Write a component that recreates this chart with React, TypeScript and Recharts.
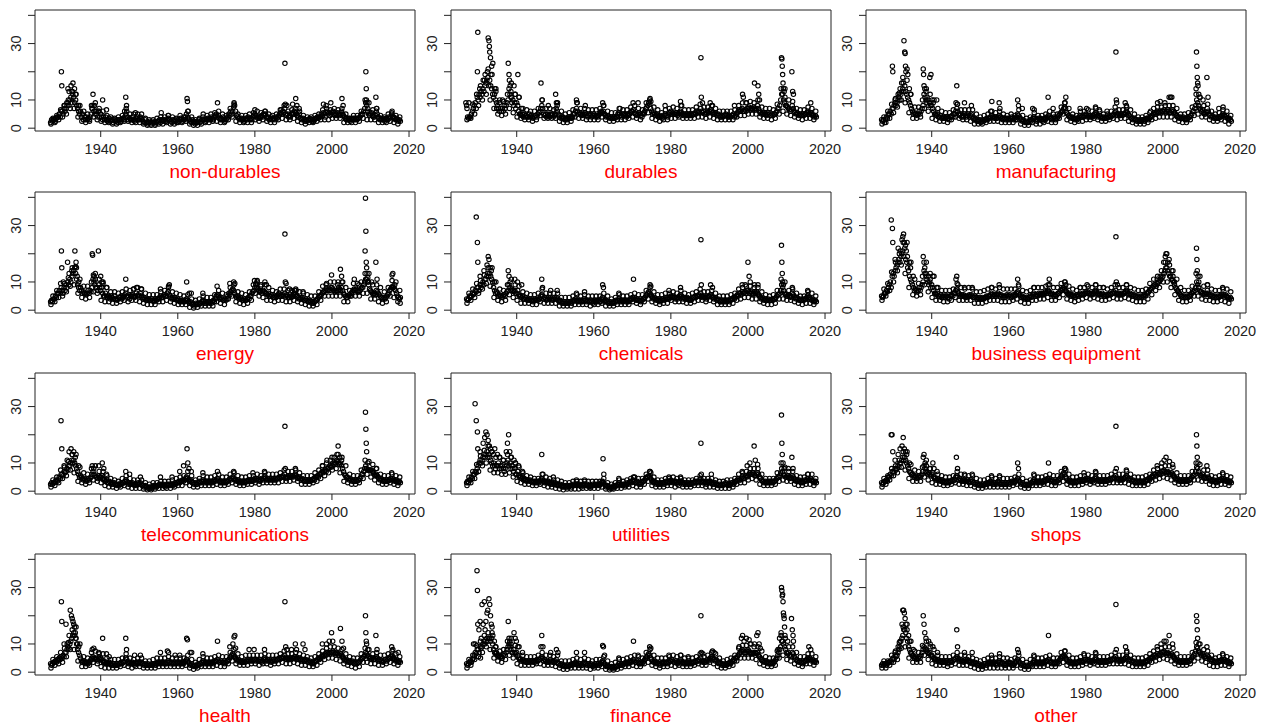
import React from 'react';
import { ScatterChart, Scatter, XAxis, YAxis, ReferenceArea } from 'recharts';

// Quarterly observations start in 1927 (4 per year through 2017);
// yearly band lows / highs (1927..2017) complete the dense monthly cloud.
const START_YEAR = 1927;
const STEP = 0.25;
const X_DOMAIN: [number, number] = [1922.95, 2021.55];
const Y_DOMAIN: [number, number] = [-1.0, 41.9];
const X_TICKS = [1940, 1960, 1980, 2000, 2020];
const Y_TICKS = [0, 10, 20, 30, 40];
const Y_TICK_LABELS: Record<number, string> = { 0: '0', 10: '10', 30: '30' };

const nondurBase = [
  2,3,2.5,3, 3,2.5,3.5,4, 4,5,4,6,
  6,5,7,6, 7,8,9,8, 10,11,9,12, 11,9,10,8, 7,6,5,6, 4,5,3,4, 3,4,3,3.5, 3,4,5,7, 8,6,5,6, 5,4,6,4,
  5,4,3,4, 3,4,3,2.5, 3,3.5,2.5,3, 3,2,3,2.5, 2.5,3,2,3, 3,2.5,3,3.5, 3,4,5,6, 4,3,3.5,3, 3,4,3,2.5, 3,3.5,4,3,
  3,4,3.5,3, 2.5,2,3,2, 2,1.5,2,2.5, 1.5,2,2.5,2, 2,1.5,2,2.5, 2.5,3,2,3, 3,2.5,3,2.5, 2.5,3,3.5,3, 3,2.5,2,3, 2.5,3,2.5,2,
  3,2.5,3,3.5, 3,2.5,3,3, 4,5,4,3.5, 3,2.5,2,3, 2,2.5,1.5,2, 2,2.5,3,2, 2.5,3,4,3, 3,2.5,3,3.5, 3,3.5,3,4, 3.5,3,4,4.5,
  5,4,4.5,3.5, 3,3.5,3,4, 3,2.5,3,3.5, 4,5,4.5,6, 5,6,7.5,8, 6,4.5,4,3.5, 3.5,3,3.5,3, 3,2.5,3,3.5, 3,4,3.5,3, 3.5,3,4,4.5,
  5,4.5,4,3.5, 4,3.5,4,4.5, 4,5,4.5,5, 4,3.5,4,3, 3.5,4,3,3.5, 3.5,3,4,3.5, 4,4.5,5,5.5, 5,6,5.5,7, 5,4.5,5,4, 4.5,4,5,5.5,
  5,6,5.5,5, 4.5,4,5,3.5, 3.5,3,3.5,3, 2.5,3,2.5,3, 3,3.5,3,2.5, 3,2.5,3,3.5, 3.5,4,3.5,4, 4,5,4.5,5.5, 5,4,5.5,6, 5,5.5,4.5,5,
  5.5,6,5,4.5, 5,4.5,5.5,5, 4.5,5,6,5, 4.5,4,3.5,3, 3,3.5,3,2.5, 3,3.5,3,3.5, 3,3.5,3,3.5, 3.5,4,4.5,5, 5,6,7,9, 8,6,5,4.5,
  5,5.5,4.5,4, 4,4.5,6,5, 4,3.5,3,3.5, 3,3.5,3,2.5, 3,3.5,3,4, 3.5,4,5,4, 4,3.5,3,3.5, 3,2.5,3,2.5,
];
const nondurLow = [
  1.5,2,3,
  4,5,7,7,4,2.5,2,2.5,4,3,
  2.5,2,2,1.5,1.5,2,2.5,2.5,2,2,
  2,1.5,1,1,1,1.5,1.5,2,1.5,1.5,
  2,2,2.5,1.5,1,1,1.5,2,2,2.5,
  2.5,2,2,3,4,2.5,2,2,2,2,
  3,2.5,3,2.5,2,2,3,3.5,3,3,
  3.5,2.5,2,1.5,2,2,2.5,3,3,3,
  3.5,3.5,3.5,2,2,2,2,2.5,3.5,3,
  3,3,2,2,2,2.5,2,1.5,
];
const nondurHigh = [
  3.5,4.5,6.5,
  8,10,13,12,8,6,5,8,9,7,
  6,4.5,4,3.5,4,4.5,7,5,5,5,
  5,3.5,3,3,3.5,4,4,4.5,4,3.5,
  4.5,4,6,4,3,3.5,5,4.5,5,5.5,
  6,5,4.5,7,9,5,4.5,4.5,5,5.5,
  6,5.5,6,5,4.5,5,6.5,8,6,6.5,
  7,6,4.5,4,4,4.5,5,6.5,7,6.5,
  7,6.5,7,5,3.5,4.5,4.5,6,10,9,
  6.5,7,4.5,4,5,6,4.5,4,
];
const nondurPeaks = [
  [1929.8,20],[1929.9,15],[1930.5,8],[1931.2,9],[1931.5,14],[1931.8,13],[1932.3,15],[1932.8,16],[1933.2,14],[1933.5,12],[1932.6,13],[1934.2,8],
  [1938.0,12],[1937.8,7],[1938.4,8],[1938.8,6],[1939.5,6],[1940.5,10],[1941.5,6.5],[1946.5,11],[1946.7,8],[1946.2,6],[1949.0,5.5],[1955.7,5.5],
  [1957.5,4.5],[1962.4,10.5],[1962.5,9.5],[1962.7,6],[1970.3,9],[1974.6,8.5],[1980.0,6.5],[1982.7,6],[1986.8,6.5],[1987.8,23],[1987.9,8.5],
  [1988.3,8],[1989.8,8.5],[1990.6,10.5],[1990.9,8],[1991.5,7],[1997.8,8.5],[1998.5,8],[1999.7,9],[2002.6,10.5],[2002.9,8],[2008.8,20],
  [2008.9,14],[2008.95,10],[2009.1,9],[2009.3,7],[2011.4,11],[2011.6,7],[2015.5,5.5],
];

const durBase = [
  8,4,3.5,4, 4,5,6,7, 8,9,7,11,
  10,12,11,13, 12,14,13,15, 16,17,18,15, 17,15,14,12, 11,12,10,9, 8,7,6,7, 6,7,6,8, 7,8,9,10, 14,12,11,9, 10,8,9,7,
  9,8,6,5, 5,4.5,5,4, 5,4,4.5,4, 4,5,4,4.5, 4,3.5,4,4.5, 4.5,4,5,5.5, 6,7,8,7, 5,4.5,5,4, 5,4.5,4,5, 4.5,5,4,4.5,
  5,7,6,5, 4,4.5,3.5,4, 4,3.5,3,3.5, 3,3.5,4,3.5, 4,3.5,4,5, 5,6,7,6, 5,5.5,5,4.5, 5,4.5,5,5.5, 5,4.5,4,5, 4.5,5,4,4.5,
  5,4.5,4,4.5, 4,4.5,5,5.5, 6,5.5,6,5, 4.5,4,4.5,4, 4,3.5,4,3.5, 3.5,4,3.5,4, 4,5,5.5,5, 4.5,4,5,4.5, 5,4.5,4,5, 4.5,5,5.5,6,
  6,6.5,5.5,5, 5,4.5,5,5.5, 5,4.5,4,5, 5.5,6,7,7.5, 8,9,8.5,7, 6,5,5.5,5, 4.5,5,4.5,4, 4,4.5,4,3.5, 4,4.5,5,4.5, 4.5,4,5,5.5,
  6,5,5.5,5, 5,5.5,5,4.5, 5,5.5,6,5.5, 5,4.5,5,4.5, 4.5,5,4.5,5, 4.5,5,4.5,5, 5,5.5,5,6, 5.5,6,5.5,7, 6,5.5,6,5, 5,5.5,6,5.5,
  6,6.5,6,5.5, 5.5,5,5.5,5, 4.5,5,4.5,4, 4,4.5,4,4.5, 4.5,5,4.5,4, 4,4.5,4,4.5, 4.5,5,4,4.5, 5,5.5,6,6.5, 6,6.5,7,6, 6,6.5,6,7,
  7,7.5,7,6.5, 7,6.5,7.5,7, 6.5,7,8,7, 6,5.5,5,5.5, 5,5.5,5,4.5, 5,5.5,5,4.5, 4.5,5,4.5,5, 5,5.5,6,7, 7,8,10,12, 12,10,9,8,
  8,7.5,7,6.5, 6,6.5,8,7, 6,5.5,5,5.5, 5,4.5,5,4.5, 4.5,5,4.5,5, 5,5.5,6,5.5, 5,5.5,5,4.5, 4.5,4,4.5,4,
];
const durLow = [
  3,3.5,5,
  8,10,12,10,7,5,4.5,5,7,5.5,
  4,3.5,3,3,2.5,3,4.5,3.5,3.5,3.5,
  3.5,2.5,2,2,2.5,4,3.5,3.5,3,3,
  3,3,4,3,2.5,2.5,3,3,3,3.5,
  4,3.5,3,5,5.5,3.5,3,2.5,3,3,
  3.5,3.5,4,3.5,3.5,3.5,3.5,4,4,3.5,
  4,3.5,3,3,3,3,3,4,4.5,4.5,
  5,5,5,4,3.5,3.5,3,3.5,5,6,
  5,4.5,4,3.5,3,3.5,3.5,3,
];
const durHigh = [
  9,8.5,12,
  15,17,21,19,14,10,9.5,12,16,12,
  11,7,6.5,6,6,7,10,7,7,6.5,
  9,6,5,5.5,6.5,9,7,7,6.5,6.5,
  6.5,7,8,6,5.5,5.5,7,6.5,6.5,7.5,
  8,7,6.5,9,10.5,7.5,6.5,5.5,6.5,7,
  7.5,7,8,6.5,6.5,6.5,7.5,8.5,7.5,7.5,
  8,7,6,6,6,6,6.5,8,9,9,
  9.5,9,10,7.5,7,7,6.5,8.5,14,14,
  10,9.5,7,6.5,6.5,7.5,7,6,
];
const durPeaks = [
  [1926.8,9],[1927.1,7],[1929.8,20],[1929.9,34],[1930.4,14],[1931.3,17],[1931.8,19],[1932.4,20],[1932.6,32],[1932.8,31],[1932.9,29],[1933.0,27],
  [1933.2,25],[1933.5,22],[1933.8,23],[1933.3,19],[1934.3,14],[1934.6,13],[1934.8,7],[1935.5,9],[1936.3,10],[1937.8,23],[1938.0,19],[1938.1,17],
  [1938.3,15],[1938.5,13],[1938.7,11],[1939.3,15],[1939.6,12],[1940.3,19],[1940.6,11],[1941.2,7],[1946.3,16],[1946.6,10],[1948.2,8],[1950.1,12],
  [1950.3,9],[1950.5,8],[1955.5,10],[1955.7,9],[1957.8,8],[1962.3,9],[1962.5,8],[1966.8,7],[1970.2,9],[1971.5,9],[1974.5,10],[1974.8,9.5],
  [1978.5,8],[1982.5,9.5],[1982.8,8],[1987.8,25],[1987.9,11],[1988.2,9],[1990.2,9],[1990.8,8],[1996.5,8],[1998.6,12],[1998.8,11],[1999.5,9],
  [2001.7,16],[2002.6,15],[2002.8,12],[2003.0,10],[2008.7,25],[2008.8,24.5],[2008.9,22],[2009.0,19],[2009.1,16],[2009.2,14],[2009.4,13],
  [2009.6,11],[2011.4,20],[2011.6,13],[2011.8,12],[2016.3,9],
];

const manufBase = [
  3,2.5,3,2, 3,4,3.5,5, 5,6,5,7,
  7,8,9,8, 9,10,11,10, 12,13,14,13, 15,13,12,11, 10,9,8,7, 6,5,5.5,5, 5,4.5,5,6, 5,6,7,8, 12,11,10,9, 10,8,9,8,
  8,7,6,5, 5,4.5,5,4, 4,4.5,3.5,4, 3.5,4,3.5,4, 4,3.5,3,4, 4,4.5,4,5, 5,6,7,6, 5,4.5,5,4, 4.5,4,5,4.5, 4,4.5,5,4,
  4.5,5,4,3.5, 3,3.5,3,2.5, 3,2.5,3,2, 2.5,3,2.5,3, 3,3.5,3,3.5, 3.5,4,4.5,4, 4,3.5,4,3.5, 3.5,4,4.5,4, 4,3.5,3,3.5, 3.5,3,3.5,3,
  3.5,3,3.5,4, 3.5,3,3.5,3, 4,5,4.5,4, 3.5,3,2.5,3, 2.5,2,2.5,2, 2,2.5,3,2.5, 3,3.5,4,3.5, 3,2.5,3,3.5, 3,3.5,3,2.5, 3,3.5,3,3.5,
  4,4.5,4,3.5, 3.5,3,3.5,4, 3.5,3,3.5,4, 4.5,5,5.5,6, 6,7,7.5,7, 5.5,5,4.5,4, 4,3.5,4,3.5, 3.5,3,3.5,3, 3.5,4,4.5,4, 4,4.5,4,4.5,
  5,4.5,4,4.5, 4,4.5,4,4, 4.5,5,5.5,5, 4.5,4,4.5,4, 4,3.5,4,3.5, 3.5,4,3.5,4, 4,4.5,4,4.5, 4.5,5,5.5,6, 5,4.5,5,4.5, 4.5,5,4.5,5,
  5,5.5,6,5.5, 5,4.5,4,3.5, 3.5,3,3.5,3, 3,2.5,3,2.5, 2.5,3,2.5,3, 3,2.5,3,3.5, 3.5,3,3.5,4, 4,4.5,5,5.5, 5,5.5,6,5.5, 5.5,6,5.5,6,
  6,6.5,6,5.5, 6,6.5,6,5.5, 5.5,6,6.5,6, 5.5,5,4.5,4, 4,3.5,4,3.5, 3.5,4,3.5,3, 3.5,3,3.5,4, 4,4.5,5,6, 6,7,8,10, 9,8,7,6.5,
  6,6.5,5.5,5, 5,5.5,7,6, 5,4.5,4,4.5, 4,3.5,4,3.5, 3.5,4,3.5,4, 4,4.5,5,4.5, 4.5,4,4.5,3.5, 3,3.5,3,2.5,
];
const manufLow = [
  1.5,2,3.5,
  5.5,7.5,10,9,5.5,3.5,3.5,4,7,6,
  3.5,3,2.5,2.5,2,3,4,3.5,3,3,
  2.5,1.5,1.5,1.5,2,2.5,2.5,2.5,2,2,
  2,2,3,1.5,1,1,2,1.5,1.5,2,
  2.5,2,2,3.5,5,3,2.5,2,2.5,2.5,
  3,3,3.5,3,2.5,2.5,3,3.5,3,3.5,
  3.5,2.5,2,1.5,1.5,1.5,2,3,3.5,4,
  4,4,4,3,2.5,2,2,3,4.5,5,
  4,4,3,2.5,2.5,3,2.5,1.5,
];
const manufHigh = [
  4,6,8.5,
  10.5,12.5,16,17,12,7.5,7.5,10,14,12,
  10,7,6,5.5,5.5,6.5,8.5,6.5,6.5,6.5,
  6.5,5,4,4.5,5,6,5.5,6,5,4.5,
  5,4.5,6.5,4.5,3.5,4,5.5,4.5,4.5,5,
  6,5,5,7.5,9,7,5,4.5,6,6,
  6.5,6,7,6,5,5,6,7.5,6.5,6.5,
  7.5,6.5,5,4,4,4.5,5.5,7,7.5,7.5,
  8,8,8,7,5,5,5.5,7.5,12,11,
  8,8.5,6,5,5.5,6.5,6,4.5,
];
const manufPeaks = [
  [1929.8,22],[1929.9,20],[1930.5,10],[1931.3,12],[1931.8,14],[1932.2,16],[1932.5,18],[1932.8,31],[1933.0,27],[1933.1,26.5],[1933.2,22],
  [1933.3,20],[1933.6,21],[1933.8,19],[1934.2,14],[1934.5,12],[1937.8,21],[1937.9,19],[1938.0,15],[1938.2,14],[1938.5,13],[1938.8,11],
  [1939.5,18],[1939.8,19],[1940.1,10],[1940.4,9],[1941.3,10],[1946.5,15],[1946.3,9],[1946.7,8.5],[1948.5,9],[1950.3,8],[1955.3,6],[1955.6,9.5],
  [1957.5,9],[1957.7,7],[1962.3,10],[1962.5,8],[1963.5,7],[1966.2,7],[1966.6,6.5],[1970.2,11],[1971.5,7],[1974.5,9],[1974.8,11],[1978.5,7],
  [1980.2,7],[1982.5,7.5],[1983.5,6.5],[1985.5,6],[1987.8,27],[1987.9,10],[1988.0,9],[1990.2,9],[1990.5,8],[1996.8,6],[1998.6,9],[1999.3,9.5],
  [2000.5,9],[2001.6,11],[2002.0,11],[2002.3,11],[2008.6,14],[2008.7,27],[2008.8,22],[2008.9,18],[2009.0,16],[2009.1,15],[2009.3,12],
  [2009.6,11],[2010.4,10],[2011.4,18],[2011.7,11],[2014.5,7],[2015.6,7.5],
];

const energyBase = [
  3,3.5,3,4, 4,5,4.5,6, 6,7,6,8,
  7,6,8,7, 9,8,10,9, 11,10,12,13, 14,15,13,11, 9,8,7,8, 7,6,6.5,6, 6,5.5,6,7, 6,7,6.5,8, 11,10,9,8, 8,7,9,8,
  7,8,6,5, 5,6,5,4.5, 5,4.5,4,5, 4.5,4,5,4, 4,3.5,4,4.5, 4.5,5,4,4.5, 5,5.5,6,5, 4.5,5,4,5, 5,5.5,5,4.5, 5,6,5,5.5,
  5,6,5,4.5, 4,4.5,4,3.5, 4,3.5,4,3.5, 3.5,4,3.5,3, 3.5,4,3.5,4, 4,4.5,5,4.5, 4.5,5,5.5,5, 5,6,6.5,5.5, 5,4.5,4,4.5, 4,4.5,4,3.5,
  4,3.5,3,3.5, 3,3.5,3,3, 3.5,4,3.5,3, 2.5,3,2.5,2, 2,1.5,2,2.5, 2,2.5,2,2.5, 2.5,3,3.5,3, 2.5,3,2.5,3, 3,2.5,3,2.5, 3,3.5,3,4,
  5,5.5,5,4.5, 4,4.5,4,3.5, 3.5,4,3.5,4, 5,6,5.5,6.5, 7,7.5,7,6, 5,4.5,5,4.5, 4,4.5,4,3.5, 3.5,4,3.5,3.5, 4,4.5,4,5, 5,6,6.5,7,
  8,9,8,7.5, 7,6.5,7,6, 6.5,7,6.5,6, 6,5.5,6,5, 5,5.5,5,4.5, 4.5,5,4.5,5, 5.5,6,5,5.5, 5,5.5,5,6, 5,5.5,5,4.5, 4.5,5,4.5,5,
  5.5,6,5.5,5, 5,4.5,4,4.5, 4,4.5,4,3.5, 3.5,4,3.5,3, 3,3.5,3,2.5, 3,2.5,3,3.5, 3.5,4,4.5,5, 5,5.5,6,6.5, 6.5,7,7.5,7, 7,7.5,7,8,
  8,7.5,7,6.5, 7,6.5,7,8, 7.5,7,8,7, 6,5.5,5,4.5, 4.5,5,5.5,5, 6,6.5,7,7.5, 7,7.5,7,6.5, 6.5,7,7.5,8, 8,9,10,11, 11,10,9,7.5,
  7,6.5,6,5.5, 6,5.5,7,6.5, 6,5.5,5,4.5, 4.5,4,4.5,4, 4.5,5,5.5,6, 7,7.5,8,8.5, 8,7.5,7,6, 5,4.5,4,4.5,
];
const energyLow = [
  2,3,4.5,
  5,6.5,8.5,9,6,4.5,4,4.5,6.5,6,
  3.5,3,3,2.5,2.5,3,3.5,3,3.5,3.5,
  3,2.5,2,2,2,3,3,3.5,3,2.5,
  2,2,2,1,0.8,1,1.5,1.5,1.5,1.5,
  3,2.5,2,4,5,3,2.5,2,2.5,3.5,
  6,5,4.5,3.5,3.5,3,3.5,3.5,3,3,
  3.5,3,2.5,2,1.5,1.5,2,3.5,5,5,
  5,5,5,3,3,5,5,5,6,6,
  4,4,3,2.5,3,5,4.5,3,
];
const energyHigh = [
  5,7,9.5,
  9.5,11.5,15,17,11,8.5,8.5,10,13,11,
  10,8,6.5,6.5,6,6.5,7.5,7,7.5,8,
  7.5,6,5.5,5.5,5.5,6.5,7,8,6.5,6,
  5.5,5,5.5,4,3.5,4,5,4.5,4.5,5.5,
  7,6,5.5,8,9,6.5,6,5.5,6.5,9,
  10.5,9,9,8,7,6.5,7.5,7.5,7,7,
  7.5,6.5,6,5.5,5,5,6.5,8.5,9.5,10,
  10,10,10,8,7,9.5,9.5,10,13,13,
  9,9,8,6.5,8,10.5,10,7,
];
const energyPeaks = [
  [1929.8,21],[1929.9,15],[1930.3,10],[1931.4,17],[1931.8,13],[1932.5,14],[1933.3,21],[1933.5,15.5],[1933.7,15],[1933.9,12],[1934.3,10],
  [1937.8,20],[1937.9,19.5],[1938.1,12.5],[1938.3,12],[1938.6,11],[1939.4,21],[1940.0,12],[1940.3,10],[1940.6,9.5],[1941.5,8],[1946.5,11],
  [1948.5,7.5],[1949.3,8],[1950.5,7.5],[1955.5,7.5],[1957.6,8.5],[1957.8,9],[1962.3,10],[1963.0,6],[1963.5,6],[1966.5,6],[1970.2,8.5],
  [1973.5,9.5],[1974.5,10],[1974.8,9.5],[1979.9,10.5],[1980.3,9.5],[1980.6,10],[1981.5,8.5],[1982.6,10],[1983.0,9],[1987.8,27],[1987.9,10],
  [1988.1,9.5],[1989.0,7.5],[1990.3,7],[1990.7,7],[1992.5,6.5],[1998.5,9],[1999.9,12.5],[2001.5,9],[2002.2,14.5],[2002.5,12],[2002.8,10],
  [2005.8,11],[2007.0,9],[2008.6,21],[2008.7,39.7],[2008.8,28],[2008.9,17],[2009.0,15],[2009.1,13],[2009.3,11.5],[2009.5,10],[2010.3,10],
  [2011.4,17],[2011.7,11],[2015.6,12.5],[2015.8,13],[2016.3,9],[2017.7,2.5],
];

const chemBase = [
  4,3.5,4,5, 4.5,5,6,5.5, 6,7,6.5,8,
  8,7,9,8, 9,10,9,11, 11,12,13,12, 13,12,11,10, 8,7,6,6.5, 6,5,5.5,5, 5,4.5,5,5.5, 5,6,6.5,7, 9,8,7,7.5, 7,6.5,7,6,
  6,7,5.5,5, 5,4.5,5,4, 4,4.5,4,3.5, 4,3.5,4,3.5, 3.5,3,3.5,4, 3.5,4,3.5,4, 4,5,5.5,5, 4,4.5,4,3.5, 4,4.5,4,4.5, 4,3.5,4,4.5,
  4,4.5,4,3.5, 3,3.5,3,2.5, 3,2.5,3,2.5, 2.5,3,2.5,3, 3,2.5,3,3.5, 3.5,4,3.5,3, 3.5,3,3.5,3, 3,3.5,4,3.5, 3.5,3,3.5,3, 3,3.5,3,2.5,
  3,3.5,3,3.5, 3,3.5,3,3, 4,4.5,4,3.5, 3,3.5,3,2.5, 2.5,3,2.5,2.5, 3,2.5,3,3.5, 3,3.5,4,3.5, 3,3.5,3,3.5, 3.5,3,3.5,3, 3,3.5,3.5,4,
  4.5,4,4.5,4, 3.5,4,3.5,3.5, 3.5,3,3.5,4, 4,4.5,5,5.5, 6,6.5,6,5.5, 5,4.5,4,4.5, 4,3.5,4,3.5, 3.5,3,3.5,4, 4,3.5,4,4.5, 4,4.5,4,4.5,
  5,4.5,5,4.5, 4.5,4,4.5,4, 4.5,5,5.5,5, 4.5,4,4.5,4, 4,4.5,4,3.5, 4,3.5,4,4.5, 4.5,5,4.5,5, 5,5.5,5,6, 5,4.5,5,4.5, 4.5,4,4.5,5,
  5,5.5,5,4.5, 4.5,4,4.5,4, 3.5,4,3.5,3, 3,3.5,3,3.5, 3,3.5,3,3.5, 3.5,3,3.5,4, 4,4.5,4,4.5, 5,5.5,5,6, 6,5.5,6.5,6, 6,6.5,6,7,
  7,6.5,6,6.5, 6,5.5,6,6.5, 6,6.5,6,5.5, 5,4.5,4,4.5, 4,3.5,4,3.5, 3.5,4,3.5,3.5, 3.5,4,3.5,4, 4,4.5,5,5.5, 5.5,6,7,9, 8,7,6,5.5,
  5.5,5,5.5,5, 5,4.5,6,5.5, 5,4.5,4,4.5, 4,3.5,4,3.5, 3.5,4,3.5,4, 4,4.5,5,4.5, 4.5,4,3.5,4, 3.5,3,3.5,3,
];
const chemLow = [
  2.5,3.5,4.5,
  6,7.5,9.5,8.5,4.5,3.5,3,3.5,5.5,4.5,
  3.5,2.5,2.5,2.5,2,2,3,2.5,2.5,2.5,
  2.5,1.5,1.5,1.5,1.5,2,2,2,2,1.5,
  2,2,2.5,1.5,1.5,1.5,2,2,2,2,
  3,2.5,2,3,4,3,2.5,2,2.5,2.5,
  3.5,3,3,3,2.5,2.5,3,3.5,3.5,3,
  3.5,3,2,2,2,2,2.5,3.5,4,4.5,
  4.5,4,4,3,2.5,2,2,2.5,4,4,
  3.5,3.5,3,2.5,2,2.5,2.5,2,
];
const chemHigh = [
  6,7.5,9.5,
  10.5,12.5,15,15,10,7.5,7,9,11,9,
  8.5,6.5,6,5.5,5.5,6,7.5,6,6,6,
  6,4.5,4.5,4.5,5,5.5,5,5.5,5,5,
  5,5,6,5,4,4.5,5.5,5,5,5.5,
  6,5.5,5.5,7,8,6.5,5.5,5.5,6,6,
  6.5,6,7,6,5.5,6,6.5,7.5,6.5,6.5,
  7,6,5,5,5,5.5,6,7.5,8,8.5,
  8.5,8,8,6.5,5.5,5,5.5,7,11,10,
  7,7.5,6,5,5,6.5,6,5,
];
const chemPeaks = [
  [1929.5,33],[1929.8,24],[1929.9,17],[1930.5,12],[1931.5,14],[1932.3,16],[1932.6,19],[1932.8,18],[1933.1,15],[1933.4,14],[1934.2,10],
  [1937.8,14],[1938.0,12],[1938.3,10],[1939.5,11],[1940.2,10],[1941.3,9],[1946.5,11],[1946.7,8],[1948.8,7],[1950.5,7],[1955.5,6],[1957.6,6.5],
  [1962.3,9],[1962.5,8],[1966.5,6],[1970.3,11],[1974.6,9],[1974.8,8.5],[1979.5,7],[1982.5,8],[1987.8,25],[1987.9,9],[1990.3,9],[1990.8,8],
  [1998.5,9],[1999.3,9],[2000.0,17],[2000.3,12],[2000.6,10],[2001.7,9],[2002.6,9],[2008.7,23],[2008.8,17],[2008.9,13],[2009.0,10],[2009.2,9],
  [2011.5,8],[2015.5,7],
];

const busEqBase = [
  5,4.5,5,6, 6,7,6.5,8, 9,10,8,12,
  13,12,14,15, 16,17,18,17, 19,20,21,19, 22,18,17,15, 14,12,11,10, 9,8,7,7.5, 7,6.5,7,8, 7,8,9,10, 14,13,12,11, 10,9,10,8,
  9,8,7,6, 6,5.5,6,5, 5,5.5,4.5,5, 4.5,5,4.5,5, 5,4.5,4,5, 5,5.5,5,6, 6,7,7.5,6.5, 6,5.5,5,5.5, 5,5.5,5,4.5, 5,4.5,5,5.5,
  5,5.5,5,4.5, 4.5,5,4.5,4, 4.5,4,4.5,4, 4,4.5,4,4.5, 4.5,5,4.5,5, 5,5.5,6,5.5, 5,5.5,5,5.5, 5.5,6,5.5,5, 5.5,5,4.5,5, 4.5,5,5.5,5,
  5,5.5,5,4.5, 5,5.5,5,5.5, 6,6.5,6,5.5, 5,4.5,5,4.5, 4.5,4,4.5,4, 4,4.5,5,4.5, 5,5.5,6,5.5, 5,5.5,5,6, 5.5,6,5.5,6, 5.5,6,6.5,6,
  6.5,7,6.5,6, 5.5,6,5.5,5, 5.5,5,5.5,6, 6,6.5,7,7.5, 7.5,8,7.5,7, 6.5,6,5.5,6, 5.5,5,5.5,5, 5,4.5,5,5.5, 5,5.5,6,5.5, 5.5,6,5.5,6,
  6.5,6,6.5,6, 6,5.5,6,5.5, 6,6.5,7,6.5, 6,5.5,6,5.5, 5.5,6,5.5,5, 5,5.5,5,5.5, 5.5,6,5.5,6, 6,6.5,6,7, 6,5.5,6,5.5, 5.5,6,5.5,6,
  6,6.5,7,6.5, 6,5.5,6,5.5, 5.5,5,5.5,5, 5,4.5,5,4.5, 4.5,5,4.5,5, 5,5.5,5,6, 6,6.5,7,7.5, 7.5,8,8.5,9, 9,8.5,9.5,10, 10,10.5,11,11.5,
  12,13,14,15, 15,14,13,12, 12,11,10.5,10, 9,8,7.5,7, 6.5,6,5.5,5, 5,4.5,5,4.5, 4.5,5,4.5,5, 5,5.5,6,6.5, 6.5,7,8,10, 9,8,7,6.5,
  6.5,6,5.5,6, 5.5,6,7,6, 5.5,5,5.5,5, 5,4.5,5,4.5, 4.5,5,4.5,5, 5,5.5,5,5.5, 5,5.5,5,4.5, 4.5,4,4.5,4,
];
const busEqLow = [
  3.5,5,7,
  10,14,16,13,8,5.5,5,5.5,9,6.5,
  4.5,3.5,3.5,3,3,3.5,4.5,3.5,3.5,3.5,
  3.5,2.5,2.5,2.5,3,3.5,3.5,3.5,3,3,
  3,3.5,4,3,2.5,2.5,3.5,3.5,4,4,
  4.5,3.5,3.5,4.5,5.5,4,3.5,3,3.5,4,
  4.5,4,4.5,4,3.5,3.5,4,4.5,4,4,
  4.5,4,3.5,3,3,3,4,5.5,7,8,
  10,10,8,5.5,3.5,3,3,3.5,5,5,
  4,3.5,3.5,3,3,3.5,3,2.5,
];
const busEqHigh = [
  7.5,9.5,13.5,
  17,20,24,24,17,11,9.5,12,17,13,
  12,8,7,7,7,7.5,9.5,8,7.5,8,
  7.5,6.5,6.5,7,7.5,8,7.5,8,7.5,7.5,
  7.5,7.5,8.5,7,6.5,7,8,8,8,8.5,
  9,8,8,9.5,10,8.5,7.5,7,8,8,
  8.5,8,9,8,8,7.5,8,9,8,8,
  9,8,7.5,7,7,7.5,9.5,11,12,14,
  17,18,14,11,8,7,7,8.5,13,12,
  8.5,9,7.5,7,7,7.5,7.5,6.5,
];
const busEqPeaks = [
  [1929.5,32],[1929.8,29],[1929.9,24],[1930.5,18],[1931.3,22],[1931.8,21],[1932.3,25],[1932.5,26],[1932.7,27],[1932.9,24],[1933.2,23],
  [1933.4,21],[1933.7,19],[1934.2,17],[1934.5,15],[1935.2,12],[1937.8,19],[1938.0,17],[1938.2,15],[1938.5,13],[1939.2,12],[1939.6,11],
  [1940.3,12],[1941.3,8],[1946.3,11],[1946.5,12],[1946.8,9],[1948.5,8],[1950.5,8],[1955.5,8],[1957.5,9],[1962.3,11],[1962.5,9],[1966.5,8],
  [1970.2,9],[1970.5,11],[1974.5,10],[1974.8,9],[1978.5,8],[1980.3,9],[1982.5,9],[1984.5,8],[1987.8,26],[1987.9,10],[1988.2,9],[1990.5,9],
  [1998.5,11],[1999.3,12],[2000.2,17],[2000.6,19],[2000.8,20],[2001.0,20],[2001.3,17],[2001.7,16],[2002.3,14],[2002.6,12],[2003.0,10],
  [2008.7,22],[2008.8,18],[2008.9,14],[2009.1,12],[2009.3,10],[2011.5,9],[2015.5,8],
];

const telecomBase = [
  2.5,3,2.5,3, 3,3.5,4,3.5, 4,5,4.5,6,
  6,5.5,7,6.5, 7,8,7.5,9, 9,10,11,10, 11,10,9,8, 7,6,5,5.5, 5,4.5,4,4.5, 4,3.5,4,4.5, 4,4.5,5,6, 7,6,5.5,5, 5,4.5,5.5,5,
  5,5.5,4.5,4, 4,3.5,4,3, 3,3.5,3,2.5, 3,2.5,3,2.5, 2.5,2,2.5,2, 2.5,3,2.5,3, 3,3.5,4,3.5, 3,2.5,3,2.5, 2.5,3,2.5,2, 2.5,2,2.5,3,
  2.5,3,2.5,2, 2,1.5,2,1.5, 1.5,1,1.5,1, 1.5,1,1.5,2, 1.5,2,1.5,2, 2,2.5,2,2.5, 2,2.5,2,1.5, 2,2.5,2,2.5, 2.5,2,2.5,2, 2.5,3,2.5,3,
  3,3.5,3,3.5, 3.5,4,3.5,4, 4.5,5,4.5,4, 3.5,4,3.5,3, 3,2.5,3,2.5, 2.5,3,3.5,3, 3,3.5,4,3.5, 3,3.5,3,3.5, 3,3.5,3,3.5, 3,3.5,4,3.5,
  4,4.5,4,3.5, 3,3.5,3,3.5, 3,3.5,3,3.5, 3.5,4,4.5,4, 4.5,5,4.5,4, 4,3.5,4,3.5, 3,3.5,3,3.5, 3,3.5,3,3.5, 3.5,4,3.5,4, 3.5,4,3.5,4,
  4.5,4,4.5,4, 4,3.5,4,4.5, 4,4.5,5,4.5, 4,4.5,4,4.5, 4,4.5,4,4.5, 4,4.5,4,4.5, 4.5,5,4.5,5, 5,5.5,5,6, 5,4.5,5,5.5, 5,5.5,5,5.5,
  5,5.5,6,5.5, 5,4.5,5,4.5, 4,4.5,4,3.5, 3.5,4,3.5,4, 3.5,4,3.5,4, 4,4.5,4,5, 5,5.5,5,6, 6,6.5,7,6.5, 7,7.5,7,8, 8,8.5,9,8.5,
  9,10,9.5,10, 10,11,10.5,10, 9.5,10,9,8, 7,6,5.5,5, 5,4.5,4,4.5, 4,3.5,4,3.5, 3.5,4,3.5,4, 4,4.5,5,6, 6,7,8,9, 8,7.5,7.5,7.5,
  7.5,7.5,7,6.5, 6,5.5,6,5.5, 5,4.5,4,4.5, 4,3.5,4,3.5, 3.5,4,3.5,4, 4,4.5,4,4.5, 4,3.5,4,3.5, 3.5,3,3.5,3,
];
const telecomLow = [
  1.5,2,3,
  4.5,5.5,7.5,6.5,3.5,3,2.5,3,4,3.5,
  3,2,1.5,1.5,1,1.5,2,1.5,1,1,
  1,0.8,0.5,0.5,0.8,1,1,1,1,1.5,
  2,2,3,2,1.5,1.5,2,2,2,2,
  2.5,2,2,2.5,3,2.5,2,2,2.5,2.5,
  3,2.5,3,3,3,3,3,3.5,3.5,3.5,
  4,3.5,2.5,2.5,2.5,3,3.5,4.5,5.5,6.5,
  7.5,8,6.5,3.5,3,2.5,2.5,3,4.5,6,
  5,4,3,2.5,2.5,3,2.5,2,
];
const telecomHigh = [
  4,5,7.5,
  8.5,10.5,13,13,8.5,6.5,6,8,9,7,
  7,5.5,4.5,4,3.5,4.5,5.5,4.5,4,4,
  4,3,2.5,3,3,3.5,3.5,3.5,4,4.5,
  5,5.5,7,5.5,4,4.5,5.5,5,5,5.5,
  6,5,5,6,6.5,5.5,5,5,5.5,5.5,
  6,5.5,6.5,6,6,6,6.5,7.5,7,7,
  7.5,6.5,5.5,5.5,5.5,6.5,7.5,9,10,11,
  12,13,12,9,6,5.5,5.5,7.5,11,10.5,
  9.5,8,6,5.5,5.5,6,5.5,5,
];
const telecomPeaks = [
  [1929.7,25],[1929.9,15],[1930.5,9],[1931.3,11],[1931.8,14],[1932.3,15],[1932.6,13],[1933.0,14],[1933.4,12],[1934.3,9],[1937.8,9],[1938.2,8],
  [1939.5,9],[1940.4,10],[1940.8,8],[1941.5,6],[1946.5,7],[1947.5,6],[1950.3,5],[1955.5,5],[1958.5,5],[1960.5,7],[1961.5,9],[1962.4,15],
  [1962.6,10],[1962.9,8],[1963.5,7],[1966.5,6.5],[1970.3,7],[1974.5,7],[1979.5,6.5],[1982.5,7],[1987.8,23],[1987.9,8],[1990.5,8],[1997.5,9],
  [1998.7,11],[2000.0,12],[2001.3,13],[2001.6,16],[2002.0,12],[2002.5,11],[2008.7,28],[2008.8,22],[2008.9,17],[2009.0,14],[2009.3,10],
  [2011.5,8],[2015.5,6.5],
];

const utilBase = [
  3,3.5,3,4, 4,5,4.5,6, 6,7,6.5,8,
  9,10,11,10, 11,12,13,12, 13,14,12,13, 12,11,10,9, 10,9,8,9, 9,10,8,9, 8,9,8,7, 8,9,10,11, 9,10,8,9, 8,7,8,6,
  6,7,5.5,5, 5,4.5,5,4, 4.5,4,3.5,4, 4,3.5,4,3.5, 3.5,3,3.5,3, 3.5,3,3.5,3, 3.5,4,4.5,4, 3.5,3,3.5,3, 3,3.5,3,2.5, 3,2.5,3,2.5,
  3,2.5,2,2.5, 2,2.5,2,1.5, 2,1.5,2,1.5, 1.5,2,1.5,2, 2,1.5,2,2.5, 2,2.5,2,2.5, 2,2.5,2,1.5, 2,2.5,2,2.5, 2,2.5,2,1.5, 2,1.5,2,2.5,
  2,2.5,2,2.5, 2,2.5,2,2.5, 3,3.5,3,2.5, 2,1.5,2,1.5, 1.5,1,1.5,1, 1.5,2,1.5,2, 2,2.5,3,2.5, 2,2.5,2,2.5, 2.5,2,2.5,3, 2.5,3,3.5,3,
  3.5,4,3.5,3, 3,3.5,3,2.5, 3,2.5,3,3.5, 3.5,4,4.5,5, 5,5.5,5,4.5, 4,3.5,3,3.5, 3,2.5,3,2.5, 2.5,3,2.5,3, 3,2.5,3,3.5, 3,3.5,3,3.5,
  4,3.5,3,3.5, 3,3.5,3,2.5, 3,3.5,3,3.5, 3,2.5,3,2.5, 3,2.5,3,2.5, 2.5,3,2.5,3, 3,3.5,3,3.5, 3,3.5,4,4.5, 3.5,3,3.5,3, 3,2.5,3,3.5,
  3,3.5,3,2.5, 3,2.5,3,2.5, 2.5,2,2.5,2, 2,2.5,2,2.5, 2.5,3,2.5,2, 2.5,2,2.5,3, 3,2.5,3,3.5, 3.5,4,4.5,4, 4,4.5,5,4.5, 4.5,5,5.5,5,
  5.5,6,6.5,6, 6,6.5,6,5.5, 5.5,6,6.5,6, 5,4.5,4,3.5, 3.5,3,3.5,3, 3,3.5,3,3.5, 3,3.5,3,3.5, 3.5,4,4.5,5, 5,5.5,6.5,8, 7,6,5.5,5,
  5,5.5,5,4.5, 5,4.5,5.5,5, 4.5,4,3.5,4, 3.5,4,3.5,3, 3.5,3,3.5,4, 3.5,4,4.5,4, 4,4.5,4,3.5, 3.5,3,3.5,3,
];
const utilLow = [
  2,3,4.5,
  7,9,10,7.5,6.5,6.5,6,6,6.5,5,
  3.5,3,2.5,2.5,2,2,2.5,2,1.5,1.5,
  1,0.8,0.5,0.8,0.8,0.8,0.8,1,1,1,
  1,1,1.5,0.8,0.5,0.8,1,1,1.5,1.5,
  2,1.5,1.5,2.5,3.5,2,1.5,1.5,1.5,2,
  2,1.5,2,1.5,1.5,1.5,2,2,2,1.5,
  1.5,1.5,1,1,1,1,1.5,2.5,3,3,
  4,4.5,4,2.5,2,2,2,2.5,3.5,4,
  3.5,3.5,2.5,2,2,2.5,2.5,2,
];
const utilHigh = [
  5,7,9.5,
  12.5,14.5,16,14,12,12,11,13,12,10,
  8.5,6.5,5.5,5,4.5,4.5,6,5,4.5,4,
  4,3.5,3,3,3.5,3.5,3.5,3.5,3.5,3.5,
  3.5,3.5,4.5,3,2.5,3,4,3.5,4,4.5,
  5,4.5,4.5,6,7,5,4,4,4.5,4.5,
  5,4.5,4.5,4,4,4,4.5,5.5,4.5,4.5,
  4.5,4,3.5,3.5,4,4,4.5,6,6.5,7,
  8,8,8,6,4.5,4.5,4.5,6.5,10,8.5,
  7,7,5.5,5,5,6,6,4.5,
];
const utilPeaks = [
  [1929.2,31],[1929.5,25],[1929.8,21],[1929.9,15],[1930.5,14],[1931.3,17],[1931.7,19],[1932.0,21],[1932.3,20],[1932.6,18],[1932.9,16],
  [1933.2,15],[1933.5,14],[1934.0,13],[1934.3,15],[1935.0,13],[1935.5,12],[1936.5,11],[1937.3,14],[1937.6,17],[1937.9,20],[1938.2,14],
  [1938.5,12],[1939.3,11],[1939.7,10],[1940.5,9],[1941.5,7],[1946.5,13],[1946.8,6],[1949.5,5],[1955.5,4],[1957.6,4],[1962.4,11.5],[1962.6,6],
  [1966.5,4.5],[1970.3,5],[1974.5,7],[1974.8,6.5],[1979.5,5],[1982.5,5],[1987.8,17],[1987.9,6],[1990.5,6],[1998.5,7],[1999.8,9],[2000.5,10],
  [2001.6,16],[2001.9,11],[2002.5,9.5],[2008.7,27],[2008.8,17],[2008.9,13],[2009.1,10],[2009.4,8],[2010.5,8],[2011.4,12],[2011.7,8],[2015.5,6],
];

const shopsBase = [
  3,2.5,3,3.5, 3.5,4,3.5,5, 5,6,5.5,7,
  7,6.5,8,7.5, 8,9,8.5,10, 10,11,12,11, 12,11,10,9, 8,7,6.5,6, 6,5.5,5,5.5, 5,4.5,5,5.5, 5,5.5,6,7, 9,8,7,6.5, 6,6.5,6,5.5,
  6,6.5,5,4.5, 4.5,4,4.5,4, 4,3.5,4,3.5, 3.5,3,3.5,3, 3,3.5,3,3.5, 3.5,4,3.5,4, 4,5,5.5,5, 4,4.5,4,3.5, 4,3.5,4,3.5, 3.5,4,3.5,3,
  3.5,4,3.5,3, 3,2.5,3,2.5, 2.5,2,2.5,2, 2,2.5,2,2.5, 2.5,3,2.5,3, 3,3.5,3,2.5, 3,2.5,3,2.5, 3,3.5,3,2.5, 3,2.5,3,2.5, 2.5,3,2.5,3,
  3,2.5,3,3.5, 3,3.5,3,3.5, 4,4.5,4,3.5, 3,2.5,3,2.5, 2.5,2,2.5,2, 2.5,2,2.5,3, 3,3.5,4,3.5, 3,3.5,3,3.5, 3.5,3,3.5,3, 3.5,4,3.5,4,
  4.5,4,4.5,4, 3.5,4,3.5,3, 3.5,3,3.5,4, 4,4.5,5,5.5, 6,6.5,6,5, 4.5,4,3.5,4, 3.5,3,3.5,3, 3,3.5,3,3.5, 3.5,4,3.5,4, 3.5,4,3.5,4,
  4.5,4,4.5,4, 4,3.5,4,3.5, 4,4.5,5,4.5, 4,3.5,4,3.5, 3.5,4,3.5,4, 3.5,4,3.5,4, 4,4.5,4,4.5, 4.5,5,4.5,5.5, 4.5,4,4.5,4, 4,4.5,4,4.5,
  4.5,5,5.5,5, 4.5,4,4.5,4, 3.5,4,3.5,3, 3,3.5,3,3.5, 3.5,3,3.5,3, 3.5,3,3.5,4, 4,4.5,4,4.5, 5,5.5,5,6, 6,5.5,6.5,6, 6,6.5,6,7,
  7,7.5,7,6.5, 6.5,7,6.5,6, 6,6.5,6,5.5, 5,4.5,4,4.5, 4,3.5,4,3.5, 3.5,4,3.5,4, 3.5,4,3.5,4, 4,4.5,5,5.5, 5.5,6,7,8.5, 8,7,6,5.5,
  5.5,6,5,4.5, 5,4.5,6,5, 4.5,4,3.5,4, 3.5,4,3.5,3, 3.5,4,3.5,4, 4,4.5,4,4.5, 4,3.5,4,3.5, 3.5,3,3.5,3,
];
const shopsLow = [
  1.5,2.5,4,
  5.5,6.5,8.5,7.5,4.5,3.5,3.5,3.5,5,4,
  3,2.5,2.5,2,2,2.5,3,2.5,2.5,2,
  2,1.5,1,1,1.5,1.5,1.5,1.5,1.5,1.5,
  1.5,2,2.5,1.5,1,1,2,2,2,2.5,
  2.5,2,2,3,3.5,2.5,2,2,2,2.5,
  3,2.5,3,2.5,2.5,2.5,3,3,3,3,
  3,2.5,2,2,2,2,2.5,3.5,4,4.5,
  5,4.5,4,3,2.5,2.5,2.5,3,4,4,
  3.5,3.5,2.5,2,2,2.5,2.5,2,
];
const shopsHigh = [
  4.5,5.5,8,
  9,11,14,14,9.5,7.5,7,8.5,11,8,
  8,6,5.5,5,5,5.5,7,6,5.5,5.5,
  5.5,4.5,4,4,4.5,5,4.5,5,4.5,4.5,
  4.5,5,6,4.5,3.5,4,5.5,5,5,5.5,
  6,5.5,5.5,7,8,6,5,5,5.5,5.5,
  6,5.5,6.5,5.5,5.5,5.5,6,7,6,6,
  7,6,5,5,5,5.5,6,7.5,8,8.5,
  9,9,8.5,6.5,5.5,5.5,5.5,7,10,9.5,
  7.5,7.5,5.5,5,5.5,6,5.5,5,
];
const shopsPeaks = [
  [1929.5,20],[1929.7,20],[1929.9,14],[1930.5,11],[1931.3,13],[1931.8,15],[1932.3,16],[1932.6,19],[1932.9,15],[1933.2,14],[1933.5,13],
  [1934.2,10],[1937.8,12],[1938.0,13],[1938.3,10],[1938.6,9],[1939.5,8],[1940.3,10],[1941.4,7],[1946.4,12],[1946.7,8],[1948.5,6],[1950.5,6],
  [1955.5,5.5],[1957.6,5.5],[1962.3,10],[1962.5,8],[1966.5,6],[1970.3,10],[1974.5,8],[1974.8,7.5],[1979.5,6.5],[1982.5,7],[1987.8,23],
  [1987.9,8],[1990.5,7.5],[1998.5,9],[1999.7,10],[2000.3,11],[2000.8,12],[2001.7,10.5],[2002.5,9.5],[2008.7,20],[2008.8,16],[2008.9,12],
  [2009.1,10],[2011.4,9],[2015.5,6.5],
];

const healthBase = [
  3,2.5,3,3.5, 3.5,4,3.5,4.5, 4,5,4.5,5.5,
  5,6,5.5,7, 7,8,9,8.5, 10,11,12,13, 14,13,12,10, 8,7,6,5, 4,3.5,4,3.5, 3.5,3,3.5,3, 3.5,4,4.5,5, 5.5,5,4.5,5, 4.5,4,5,4.5,
  5,4.5,4,3.5, 3.5,3,3.5,3, 3,3.5,3,2.5, 3,2.5,3,2.5, 2.5,3,2.5,3, 3,3.5,3,3.5, 3.5,4,5,4.5, 3.5,3,3.5,3, 3,3.5,3,2.5, 3,3.5,3,3.5,
  3.5,3,3.5,3, 3,2.5,3,2.5, 2.5,3,2.5,2.5, 2.5,3,2.5,3, 3,2.5,3,3.5, 3,3.5,3,3.5, 3.5,3,3.5,3, 3,3.5,4,3.5, 3.5,3,3.5,3, 3,3.5,3,3.5,
  3.5,3,3.5,3, 3,3.5,3,3.5, 4,4.5,4,3.5, 3,2.5,3,2.5, 2.5,2,2.5,2, 2.5,3,2.5,3, 3,3.5,4,3.5, 3,3.5,3,3.5, 3,3.5,3,3.5, 3.5,3,3.5,4,
  4,4.5,4,3.5, 3.5,4,3.5,3.5, 3.5,3,3.5,4, 4,4.5,5,5.5, 6,6.5,6,5.5, 5,4.5,4,4.5, 4,3.5,4,3.5, 3.5,4,3.5,4, 4,4.5,4,4.5, 4,4.5,4,4.5,
  4.5,4,4.5,4, 4,4.5,4,3.5, 4,4.5,5,4.5, 4,4.5,4,4.5, 4,3.5,4,4.5, 4,4.5,4,4.5, 4.5,5,4.5,5, 5,5.5,5,6, 5,4.5,5,4.5, 4.5,5,4.5,5,
  5,5.5,5,4.5, 5,4.5,5,4.5, 4.5,4,4.5,4, 4,4.5,4,3.5, 3.5,4,3.5,3, 3.5,3,3.5,4, 4,4.5,5,4.5, 5,5.5,6,5.5, 6,6.5,6,7, 6.5,7,6.5,7,
  7,7.5,7,6.5, 6.5,7,6.5,6, 6,6.5,6,5.5, 5,4.5,4,4.5, 4,3.5,4,3.5, 3.5,4,3.5,3, 3,3.5,3,3.5, 3.5,4,4.5,5, 5,5.5,6,7, 6.5,6,5.5,5,
  5,4.5,5,4.5, 4.5,5,5.5,5, 4.5,4,4.5,4, 4,3.5,4,4.5, 4.5,4,4.5,5, 5,5.5,6,5.5, 5,4.5,4,4.5, 4,3.5,4,3.5,
];
const healthLow = [
  1.5,2.5,3,
  3.5,5.5,8,8,4,2,2,2.5,3.5,3,
  2,1.5,1.5,1.5,1.5,2,2.5,2,1.5,2,
  2,1.5,1.5,1.5,1.5,2,2,2,2,2,
  2,2,2.5,1.5,1,1.5,2,2,2,2,
  2.5,2,2,3,4,3,2.5,2.5,2.5,3,
  3,2.5,3,3,2.5,3,3,3.5,3,3,
  3.5,3,2.5,2.5,2,2,2.5,3.5,4.5,5,
  5,4.5,4,3,2.5,2,1.5,2,3.5,3.5,
  3,3,2.5,2.5,3,3.5,3,2.5,
];
const healthHigh = [
  4.5,5.5,7,
  8.5,10.5,15,16,10,5.5,5,7,7.5,6.5,
  6.5,5,4.5,4.5,4.5,5,6.5,5,4.5,5,
  5,4,4,4.5,5,5,5,5.5,5,5,
  5,5,6,4.5,3.5,4.5,5.5,5,5,5.5,
  6,5.5,5.5,7,8,6.5,5.5,6,6,6,
  6,6,6.5,6,6,6,6.5,7.5,6.5,6.5,
  7,6.5,6,5.5,5,5.5,6.5,7.5,8.5,9,
  9,8.5,8,6.5,5.5,5,5,6.5,8.5,8,
  6.5,7,6,6,6.5,7.5,6.5,5.5,
];
const healthPeaks = [
  [1929.8,25],[1929.9,18],[1930.5,10],[1931.0,17],[1931.3,10],[1931.8,13],[1932.1,22],[1932.4,20],[1932.6,19],[1932.8,18],[1933.0,17],
  [1933.2,16],[1933.4,14],[1933.6,12],[1934.0,10],[1934.3,9],[1937.8,8],[1938.2,8.5],[1939.5,7],[1940.5,12],[1941.5,6.5],[1942.2,5.5],
  [1946.5,12],[1946.7,8],[1948.8,6],[1950.3,6],[1955.5,7],[1957.3,7.5],[1957.6,7],[1959.3,6],[1960.5,6],[1962.3,12],[1962.5,11.5],[1963.2,7],
  [1963.6,7],[1966.5,6.5],[1970.3,11],[1973.5,9],[1974.3,10],[1974.6,12.5],[1974.8,13],[1975.0,8.5],[1978.5,8],[1979.8,8],[1982.5,8],
  [1987.8,25],[1988.0,9],[1988.3,8],[1989.5,8],[1990.5,10],[1990.8,8],[1992.5,10],[1993.0,8],[1997.5,10],[1998.6,10],[1999.3,11],[1999.9,14],
  [2000.2,11],[2002.2,15.5],[2002.6,11],[2003.0,8.5],[2008.7,20],[2008.8,14],[2008.9,11],[2009.0,10],[2009.3,8],[2011.4,13],[2011.7,8],
  [2015.5,9],[2015.8,8],[2017.2,7],
];

const financeBase = [
  3,2.5,3,3.5, 4,3.5,4.5,5, 6,7,6.5,8,
  8,7,9,8.5, 9,10,11,10, 11,12,11,12, 12,11,12,10, 8,7,6.5,7, 6,5.5,6,5.5, 5.5,5,6,6.5, 6,7,8,9, 10,9,8,7, 7,8,7,6.5,
  7,6,5,4.5, 4.5,4,4.5,4, 4,3.5,4,3.5, 3.5,4,3.5,4, 4,3.5,4,3.5, 4,4.5,4,4.5, 4.5,5,5.5,5, 4,4.5,4,3.5, 4,3.5,4,4.5, 4,3.5,4,3.5,
  4,4.5,3.5,3, 3,2.5,3,2.5, 2.5,2,2.5,2, 2,2.5,2,2.5, 2.5,3,2.5,3, 3,3.5,3,2.5, 3,2.5,3,2.5, 2.5,3,3.5,3, 3,2.5,3,2.5, 2.5,3,2.5,2,
  2.5,3,2.5,3, 2.5,3,2.5,3, 3.5,4,3.5,3, 2.5,2,2.5,2, 2,1.5,2,1.5, 1.5,2,1.5,2, 2,2.5,3,2.5, 2.5,3,2.5,3, 3,3.5,3,3.5, 3,3.5,4,3.5,
  4,4.5,4,3.5, 3.5,4,3.5,3, 3,3.5,3,3.5, 4,4.5,5,5.5, 6,6.5,6,5, 4.5,4,3.5,4, 3.5,3,3.5,3, 3,2.5,3,3.5, 3,3.5,3,3.5, 3.5,3,3.5,4,
  4,4.5,4,3.5, 3.5,4,3.5,3, 3.5,4,4.5,4, 3.5,3,3.5,3, 3,3.5,3,3.5, 3,3.5,3,3.5, 3.5,4,3.5,4, 4,4.5,4,5, 4,3.5,4,3.5, 3.5,4,4.5,4,
  4.5,5,5.5,5, 5,4.5,4,4.5, 4,3.5,3,3.5, 3,2.5,3,2.5, 2.5,3,2.5,3, 3,3.5,3,3.5, 4,4.5,4,5, 5,5.5,6,6.5, 7,7.5,8,7.5, 7,6.5,7,7.5,
  8,7.5,7,6.5, 6.5,7,6.5,7, 7,6.5,7,6, 5.5,5,4.5,4, 4,3.5,4,3.5, 3.5,3,3.5,3, 3,3.5,3,3.5, 4,4.5,5,6, 7,8,9,11, 11,10,9,8,
  7,6.5,7,6, 6,5.5,7,6.5, 5.5,5,4.5,4, 4,3.5,4,3.5, 3.5,3,3.5,4, 4,4.5,5,4.5, 5,4.5,4,4.5, 4,3.5,4,3.5,
];
const financeLow = [
  1.5,2.5,4.5,
  5.5,7,9,8,5,4,3.5,4.5,6,5,
  3,2.5,2.5,2.5,2.5,3,3,2.5,2.5,2.5,
  2,1.5,1,1,1.5,1.5,1.5,1.5,1.5,1,
  1.5,1.5,2,1,0.8,0.8,1,1.5,2,2,
  2.5,2,2,3,3.5,2.5,2,1.5,2,2,
  2.5,2,2.5,2,2,2,2.5,3,2.5,2.5,
  3.5,3,2,1.5,1.5,2,2.5,4,5,5,
  5,5,4.5,3,2.5,2,2,2.5,5,6,
  4.5,4,3,2.5,2,3,3,2.5,
];
const financeHigh = [
  4.5,6,9.5,
  11,13,14,14,9,7.5,8,11,12,9.5,
  9,6,5.5,5.5,5.5,6,7,6,6,5.5,
  6,4,4,4,4.5,5,4.5,5,4.5,4,
  4.5,4.5,5.5,4,3,3.5,4.5,4.5,5,5.5,
  6,5.5,5,7,8,6,5,5,5,5.5,
  6,5.5,6,5,5,5,5.5,6.5,5.5,6,
  7,6.5,5,4,4.5,5,6,8.5,9.5,9.5,
  10,9,9,7.5,5.5,5,5,7.5,13,13,
  9,9,7,5.5,5.5,6.5,6.5,5.5,
];
const financePeaks = [
  [1928.8,10],[1929.2,10],[1929.7,36],[1929.8,29],[1929.9,17],[1930.2,15],[1930.5,18],[1930.8,12],[1931.0,24],[1931.3,17],[1931.6,25],
  [1931.8,15],[1932.0,18],[1932.3,21],[1932.5,22],[1932.8,26],[1933.0,24],[1933.2,20],[1933.4,17],[1933.6,16],[1933.8,13],[1934.2,11],
  [1934.5,9],[1930.6,5],[1937.8,18],[1938.0,12],[1938.2,11],[1938.5,10],[1939.3,14],[1939.6,12],[1939.9,11],[1940.3,9],[1941.5,7],[1946.3,9],
  [1946.5,13],[1946.8,9],[1948.8,7],[1950.3,8],[1950.7,7],[1955.5,7],[1957.6,7],[1962.3,9.5],[1962.5,9],[1962.8,6],[1966.5,5],[1970.3,11],
  [1971.5,6],[1974.5,9],[1974.8,8.5],[1979.5,6],[1982.5,6],[1984.5,5.5],[1987.8,20],[1987.9,7],[1988.3,6.5],[1990.8,7.5],[1991.2,7],
  [1997.7,9],[1998.3,12],[1998.6,13],[1999.0,11],[1999.6,12],[2000.3,11.5],[2000.8,10],[2001.7,10],[2002.3,13],[2002.6,14],[2002.9,10],
  [2003.2,8.5],[2007.8,8],[2008.2,12],[2008.6,14],[2008.7,30],[2008.8,29],[2008.9,27],[2009.0,27.5],[2009.1,25],[2009.2,21],[2009.3,20],
  [2009.4,19],[2009.5,16],[2009.7,12],[2010.3,11],[2011.3,19],[2011.5,15],[2011.7,13],[2011.8,11],[2015.8,9],[2016.3,8],
];

const otherBase = [
  2.5,3,2.5,3, 3,2.5,3,3.5, 3.5,4,3.5,4.5,
  5,4.5,6,5.5, 6,7,8,9, 11,12,13,15, 15,14,12,11, 9,8,7,6.5, 6,5.5,5,5.5, 5,4.5,5,5.5, 5,6,7,8, 9,8.5,8,7.5, 7,6.5,7,6,
  6,5.5,5,4.5, 4.5,4,4.5,4, 4,3.5,4,3.5, 3.5,4,3.5,4, 3.5,3,3.5,4, 4,3.5,4,4.5, 4.5,5,5.5,5, 4.5,4,4.5,4, 4,3.5,4,4.5, 4,4.5,4,3.5,
  4,3.5,3,3.5, 3,3.5,3,2.5, 2.5,3,2.5,2, 2.5,2,2.5,3, 3,2.5,3,3.5, 3,3.5,3,3.5, 3,3.5,3,2.5, 3,3.5,4,3.5, 3,3.5,3,2.5, 3,2.5,3,3.5,
  3,3.5,3,2.5, 3,2.5,3,3.5, 4,4.5,4,3.5, 3,2.5,3,2.5, 2.5,2,2.5,2, 2,2.5,3,2.5, 3,3.5,4,3.5, 3,3.5,3,3.5, 3,3.5,3,3.5, 3.5,3,3.5,4,
  4,4.5,4,3.5, 3.5,3,3.5,3, 3,3.5,3,3.5, 4,4.5,5,5.5, 5.5,6,5.5,5, 4.5,4,3.5,4, 3.5,3,3.5,3, 3,3.5,3,3.5, 3.5,4,3.5,4, 4,3.5,4,4.5,
  4.5,4,4.5,4, 4,3.5,4,3.5, 4,4.5,5,4.5, 4,3.5,4,3.5, 3.5,4,3.5,4, 3.5,4,3.5,4, 4,4.5,4,4.5, 4.5,5,4.5,5.5, 4.5,4,4.5,4, 4,4.5,4,4.5,
  4.5,5,5.5,5, 4.5,4,4.5,4, 3.5,4,3.5,3, 3,3.5,3,3.5, 3,3.5,3,3.5, 3.5,3,3.5,4, 4,4.5,4,5, 5,5.5,5,6, 6,5.5,6.5,6, 6,6.5,6,7,
  7,7.5,7,6.5, 6.5,7,6.5,6, 6,6.5,6,5.5, 5,4.5,4,4.5, 4,3.5,4,3.5, 3.5,4,3.5,4, 3.5,4,3.5,4, 4,4.5,5,5.5, 6,6.5,7.5,9, 8.5,7.5,7,6.5,
  6,6.5,6,5.5, 5.5,5,6,5.5, 5,4.5,4,4.5, 4,3.5,4,3.5, 3.5,4,3.5,4, 4,4.5,4,4.5, 4.5,4,3.5,4, 3.5,3,3.5,3,
];
const otherLow = [
  1.5,1.5,2.5,
  3.5,4.5,8.5,9,5,3.5,3.5,3.5,6,4.5,
  3,2.5,2.5,2.5,2,2.5,3,2.5,2.5,2.5,
  2,1.5,1,1,1.5,1.5,1.5,1.5,1.5,1.5,
  1.5,1.5,2.5,1.5,1,1,2,2,2,2,
  2.5,2,2,3,3.5,2.5,2,2,2,2.5,
  3,2.5,3,2.5,2.5,2.5,3,3,3,3,
  3,2.5,2,2,2,2,2.5,3.5,4,4.5,
  5,4.5,4,3,2.5,2.5,2.5,3,4,5,
  4,3.5,2.5,2,2,2.5,2.5,2,
];
const otherHigh = [
  4,4,6,
  7.5,10.5,16,17,11,7.5,7,9.5,11,9,
  8,6,5.5,5.5,5.5,6,7,6,6,5.5,
  5,4.5,4,4.5,5,5,5,5.5,5,5,
  4.5,5,6,4.5,3.5,4.5,5.5,5,5,5.5,
  6,5,5,7,7.5,6,5,5,5.5,6,
  6,5.5,6.5,5.5,5.5,5.5,6,7,6,6,
  7,6,5,5,5,5.5,6.5,7.5,8,8.5,
  9,9,8.5,6.5,5.5,5.5,5.5,7,10.5,10,
  8,7.5,6,5,5.5,6,5.5,5,
];
const otherPeaks = [
  [1930.5,7],[1931.3,9],[1931.8,11],[1932.3,17],[1932.5,22],[1932.7,22],[1932.9,21],[1933.1,19],[1933.3,17],[1933.6,15],[1934.0,13],
  [1934.3,11],[1935.2,8],[1937.8,20],[1938.0,17],[1938.2,14],[1938.5,12],[1939.2,11],[1939.6,10],[1940.3,9],[1941.5,7],[1946.5,15],
  [1946.7,9],[1948.5,7],[1950.5,7],[1955.5,6],[1957.6,6.5],[1962.3,8],[1962.5,7],[1966.5,6],[1970.3,13],[1974.5,7.5],[1979.5,6.5],
  [1982.5,7],[1987.8,24],[1987.9,8],[1990.3,9],[1990.6,7.5],[1998.5,9],[1999.5,10],[2000.3,11],[2000.8,11],[2001.6,13],[2002.5,10],
  [2008.7,20],[2008.8,18],[2008.9,15],[2009.0,12],[2009.3,10],[2011.4,9],[2015.5,6.5],
];

const PANEL_NAMES = [
  'non-durables', 'durables', 'manufacturing',
  'energy', 'chemicals', 'business equipment',
  'telecommunications', 'utilities', 'shops',
  'health', 'finance', 'other',
];
const PANEL_BASES = [nondurBase, durBase, manufBase, energyBase, chemBase, busEqBase, telecomBase, utilBase, shopsBase, healthBase, financeBase, otherBase];
const PANEL_LOWS = [nondurLow, durLow, manufLow, energyLow, chemLow, busEqLow, telecomLow, utilLow, shopsLow, healthLow, financeLow, otherLow];
const PANEL_HIGHS = [nondurHigh, durHigh, manufHigh, energyHigh, chemHigh, busEqHigh, telecomHigh, utilHigh, shopsHigh, healthHigh, financeHigh, otherHigh];
const PANEL_PEAKS = [nondurPeaks, durPeaks, manufPeaks, energyPeaks, chemPeaks, busEqPeaks, telecomPeaks, utilPeaks, shopsPeaks, healthPeaks, financePeaks, otherPeaks];

// layout (plot box positions in page pixels)
const COL_LEFT = [35, 450.7, 865.7];
const ROW_TOP = [9.5, 191.5, 372.5, 553.5];
const BOX_W = 380;
const BOX_H = 121;
const Y_AXIS_W = 35;
const X_AXIS_H = 52;
const TOP_PAD = 10;
const RIGHT_PAD = 22;
const FONT = '"Liberation Sans", Arial, Helvetica, sans-serif';

const buildPoints = (base: number[], low: number[], high: number[], peaks: number[][]) => {
  const pts = base.map((v, i) => ({ x: START_YEAR + i * STEP, y: v }));
  low.forEach((v, i) => pts.push({ x: START_YEAR + i + 0.1, y: v }));
  high.forEach((v, i) => pts.push({ x: START_YEAR + i + 0.6, y: v }));
  peaks.forEach(([x, y]) => pts.push({ x, y }));
  return pts;
};

const Ring = (props: any) => {
  const { cx, cy } = props;
  if (cx == null || cy == null) return null;
  return <circle cx={cx} cy={cy} r={2.2} fill="none" stroke="#000" strokeWidth={1.1} />;
};

const YTick = (props: any) => {
  const { x, y, payload } = props;
  const label = Y_TICK_LABELS[payload.value];
  if (!label) return null;
  return (
    <text x={x} y={y} transform={`rotate(-90 ${x} ${y})`} textAnchor="middle" fontSize={14.5} fill="#222" fontFamily={FONT}>
      {label}
    </text>
  );
};

const Panel = ({ idx }: { idx: number }) => {
  const col = idx % 3;
  const row = Math.floor(idx / 3);
  const data = buildPoints(PANEL_BASES[idx], PANEL_LOWS[idx], PANEL_HIGHS[idx], PANEL_PEAKS[idx]);
  const width = Y_AXIS_W + BOX_W + RIGHT_PAD;
  const height = TOP_PAD + BOX_H + X_AXIS_H;
  return (
    <div style={{ position: 'absolute', left: COL_LEFT[col] - Y_AXIS_W, top: ROW_TOP[row] - TOP_PAD, width, height }}>
      <ScatterChart width={width} height={height} margin={{ top: TOP_PAD, right: RIGHT_PAD, bottom: 0, left: 0 }}>
        <XAxis
          type="number"
          dataKey="x"
          domain={X_DOMAIN}
          ticks={X_TICKS}
          interval={0}
          allowDataOverflow
          height={X_AXIS_H}
          axisLine={false}
          tickLine={{ stroke: '#222' }}
          tickSize={6}
          tickMargin={7}
          tick={{ fontSize: 14.5, fill: '#222', fontFamily: FONT }}
          label={{ value: PANEL_NAMES[idx], position: 'insideBottom', offset: 5.3, fill: '#ff0000', fontSize: 19, fontFamily: FONT }}
        />
        <YAxis
          type="number"
          dataKey="y"
          domain={Y_DOMAIN}
          ticks={Y_TICKS}
          interval={0}
          allowDataOverflow
          width={Y_AXIS_W}
          axisLine={false}
          tickLine={{ stroke: '#222' }}
          tickSize={7}
          tickMargin={7}
          tick={<YTick />}
        />
        <Scatter data={data} shape={<Ring />} isAnimationActive={false} />
        <ReferenceArea
          x1={X_DOMAIN[0]}
          x2={X_DOMAIN[1]}
          y1={Y_DOMAIN[0]}
          y2={Y_DOMAIN[1]}
          fill="none"
          fillOpacity={0}
          stroke="#222"
          strokeWidth={1}
          ifOverflow="visible"
        />
      </ScatterChart>
    </div>
  );
};

export default function App() {
  return (
    <div style={{ position: 'absolute', left: 0, top: 0, width: 1270, height: 727, background: '#fff', fontFamily: FONT }}>
      {PANEL_NAMES.map((_, i) => (
        <Panel key={i} idx={i} />
      ))}
    </div>
  );
}
